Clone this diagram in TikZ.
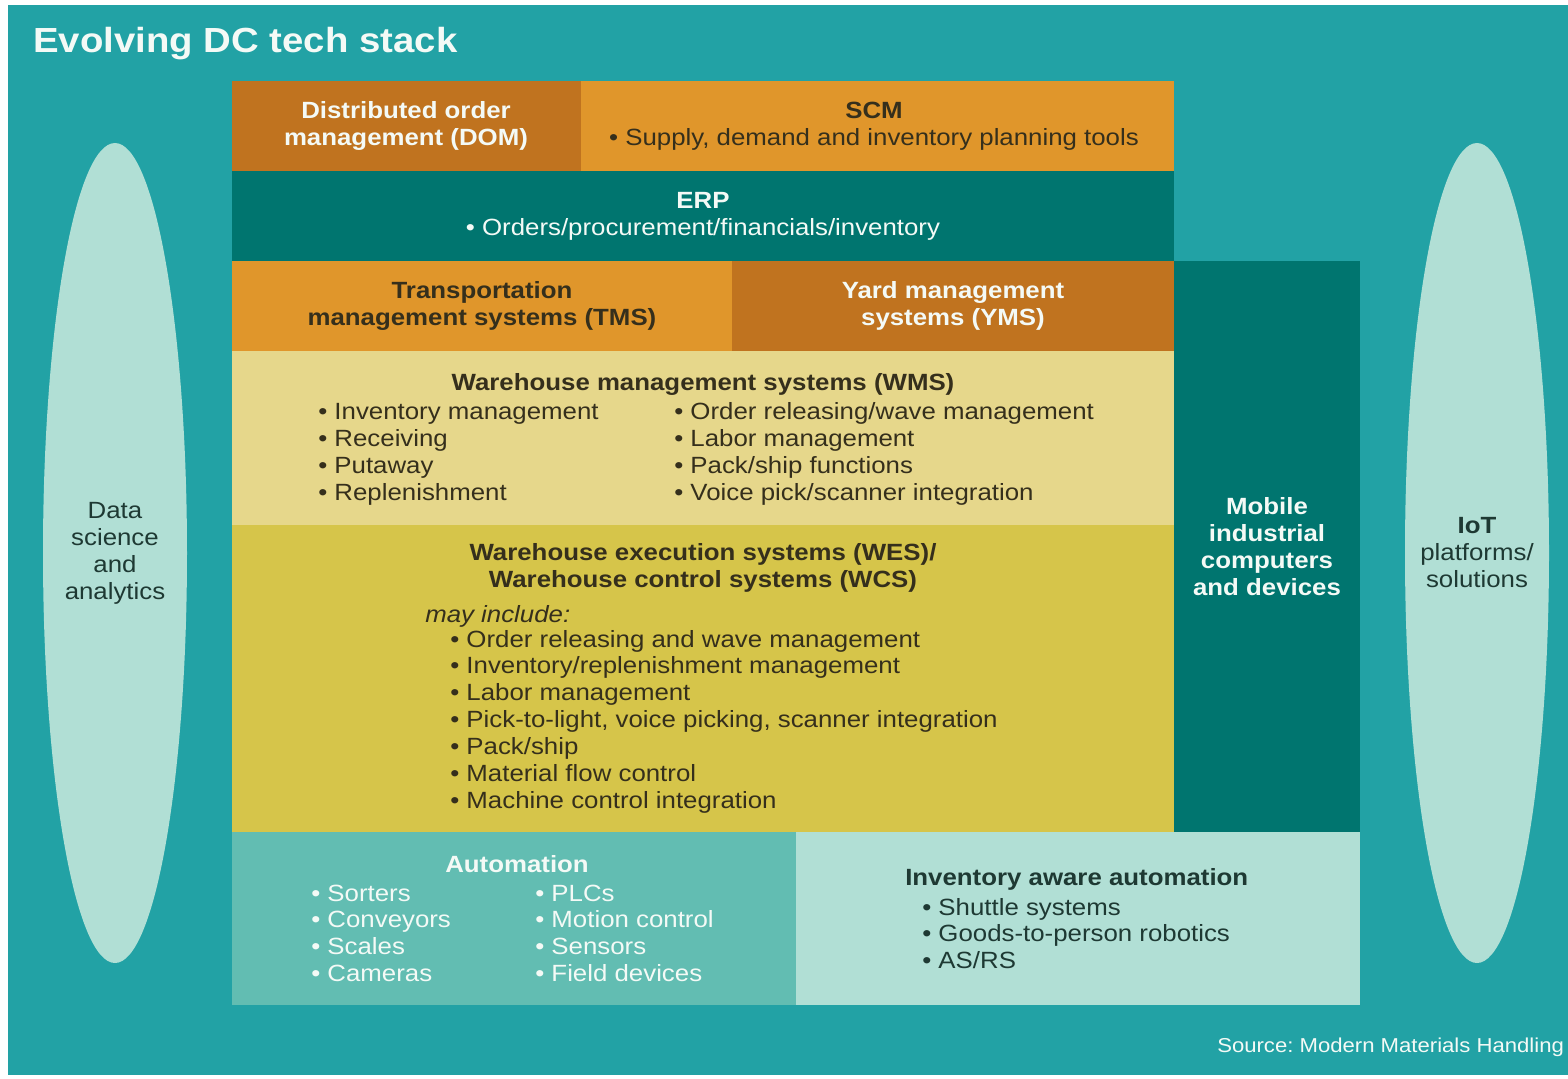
\documentclass[tikz,border=0pt]{standalone}
\usepackage{fontspec}
\setmainfont{Liberation Sans}[FakeStretch=1.1]
\usepackage{xcolor}
\usetikzlibrary{positioning}
\definecolor{bgteal}{HTML}{22A2A5}
\definecolor{deepteal}{HTML}{00756F}
\definecolor{rust}{HTML}{C0731F}
\definecolor{amber}{HTML}{E0962B}
\definecolor{paleyellow}{HTML}{E6D78B}
\definecolor{mustard}{HTML}{D6C54A}
\definecolor{midteal}{HTML}{62BDB2}
\definecolor{mint}{HTML}{B1DFD5}
\definecolor{ink}{HTML}{352F1C}
\definecolor{inkgreen}{HTML}{1E3933}
\definecolor{snow}{HTML}{F4FAF6}
\newcommand{\bodysize}{\fontsize{16.7}{19.2}\selectfont}

\begin{document}
\frenchspacing
\begin{tikzpicture}[
  x=0.25mm, y=-0.25mm,
  every node/.style={font=\bodysize, inner sep=0pt},
  head/.style={font=\bodysize\bfseries, align=center},
  item/.style={anchor=base west},
  dark/.style={text=ink},
  light/.style={text=snow}
]
  \useasboundingbox (0,0) rectangle (1568,1079);
  \fill[bgteal] (8,5) rectangle (1568,1075);
  \node[light, font=\fontsize{24.8}{28}\selectfont\bfseries, anchor=base west] (title) at (33,52) {Evolving DC tech stack};

  % side ovals
  \fill[mint] (115,553) ellipse [x radius=72, y radius=410];
  \fill[mint] (1477,553) ellipse [x radius=72, y radius=410];
  \node[text=inkgreen, align=center] (data) at (115,553) {Data\\science\\and\\analytics};
  \node[text=inkgreen, align=center] (iot) at (1477,553) {\textbf{IoT}\\platforms/\\solutions};

  % top rows
  \fill[rust] (232,81) rectangle (581,171);
  \fill[amber] (581,81) rectangle (1174,171);
  \node[head, light] (dom) at (406,126) {Distributed order\\management (DOM)};
  \node[dark, align=center] (scm) at (874,126) {\textbf{SCM}\\• Supply, demand and inventory planning tools};
  \fill[deepteal] (232,171) rectangle (1174,261);
  \node[light, align=center] (erp) at (703,216) {\textbf{ERP}\\• Orders/procurement/financials/inventory};
  \fill[amber] (232,261) rectangle (732,351);
  \fill[rust] (732,261) rectangle (1174,351);
  \node[head, dark] (tms) at (482,306) {Transportation\\management systems (TMS)};
  \node[head, light] (yms) at (953,306) {Yard management\\systems (YMS)};
  \fill[deepteal] (1174,261) rectangle (1360,832);
  \node[head, light] (mobile) at (1267,547) {Mobile\\industrial\\computers\\and devices};

  % WMS
  \fill[paleyellow] (232,351) rectangle (1174,525);
  \node[head, dark, anchor=base] (wms) at (703,390) {Warehouse management systems (WMS)};
  \foreach \t [count=\i from 0] in {Inventory management,Receiving,Putaway,Replenishment}
    \node[item, dark] (wmsl\i) at (318,419+27*\i) {• \t};
  \foreach \t [count=\i from 0] in {Order releasing/wave management,Labor management,Pack/ship functions,Voice pick/scanner integration}
    \node[item, dark] (wmsr\i) at (674,419+27*\i) {• \t};

  % WES/WCS
  \fill[mustard] (232,525) rectangle (1174,832);
  \node[head, dark] (wes) at (703,568) {Warehouse execution systems (WES)/\\Warehouse control systems (WCS)};
  \node[item, dark, font=\bodysize\itshape] (may) at (425,622) {may include:};
  \foreach \t [count=\i from 0] in {Order releasing and wave management,Inventory/replenishment management,Labor management,{Pick-to-light, voice picking, scanner integration},Pack/ship,Material flow control,Machine control integration}
    \node[item, dark] (wesl\i) at (450,647+26.85*\i) {• \t};

  % automation
  \fill[midteal] (232,832) rectangle (796,1005);
  \node[head, light, anchor=base] (auto) at (517,872) {Automation};
  \foreach \t [count=\i from 0] in {Sorters,Conveyors,Scales,Cameras}
    \node[item, light] (autol\i) at (311,901+26.7*\i) {• \t};
  \foreach \t [count=\i from 0] in {PLCs,Motion control,Sensors,Field devices}
    \node[item, light] (autor\i) at (535,901+26.7*\i) {• \t};
  \fill[mint] (796,832) rectangle (1360,1005);
  \node[head, text=inkgreen, anchor=base west] (iaa) at (905,885) {Inventory aware automation};
  \foreach \t [count=\i from 0] in {Shuttle systems,Goods-to-person robotics,AS/RS}
    \node[item, text=inkgreen] (iaal\i) at (922,915+26.7*\i) {• \t};

  \node[item, light, font=\fontsize{14.3}{17}\selectfont] (source) at (1217,1052) {Source: Modern Materials Handling};
\end{tikzpicture}
\end{document}
